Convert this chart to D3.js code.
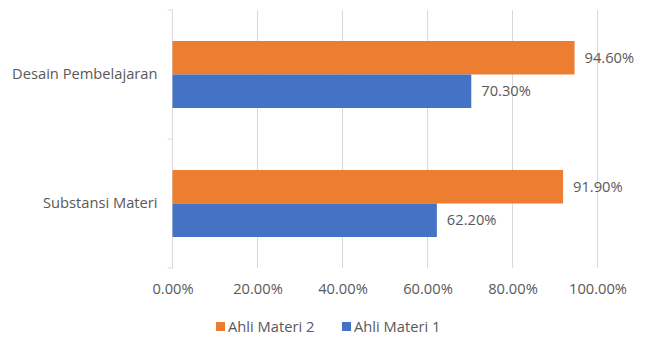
<!DOCTYPE html>
<html><head><meta charset="utf-8">
<script src="https://cdn.jsdelivr.net/npm/d3@7/dist/d3.min.js"></script>
<style>body{margin:0;background:#fff}svg{display:block}text{font-family:"Open Sans",sans-serif;fill:#595959}</style>
</head><body><svg id="c" width="651" height="338"></svg>
<script>
const categories = ["Desain Pembelajaran", "Substansi Materi"];
const seriesNames = ["Ahli Materi 2", "Ahli Materi 1"];
const ahliMateri2 = [94.6, 91.9];
const ahliMateri1 = [70.3, 62.2];
const tickValues = [0, 20, 40, 60, 80, 100];
const colors = ["#ED7D31", "#4472C4"];

const svg = d3.select("#c");
const x = d3.scaleLinear().domain([0, 100]).range([172.5, 597.5]);
const y = d3.scaleBand().domain(categories).range([10, 268]).paddingInner(0).paddingOuter(0);
const inner = d3.scaleBand().domain(seriesNames).range([0, y.bandwidth()]).paddingOuter(0.925).paddingInner(0);
const fs = 14.7;

// gridlines
svg.append("g").selectAll("line").data(tickValues.slice(1)).join("line")
  .attr("x1", d => x(d)).attr("x2", d => x(d)).attr("y1", 10).attr("y2", 268)
  .attr("stroke", "#d9d9d9").attr("stroke-width", 1);

// y axis
const ya = svg.append("g").attr("transform", `translate(${x(0)},0)`)
  .call(d3.axisLeft(y).tickSize(0).tickPadding(15).tickSizeOuter(0));
ya.select(".domain").remove();
ya.selectAll("text").style("font-size", fs + "px").style("fill", "#595959").attr("font-family", null);
svg.append("line").attr("x1", x(0)).attr("x2", x(0)).attr("y1", 10).attr("y2", 268).attr("stroke", "#d9d9d9");
svg.append("g").selectAll("line").data([10, 139, 268]).join("line")
  .attr("x1", x(0) - 5).attr("x2", x(0)).attr("y1", d => d).attr("y2", d => d).attr("stroke", "#d9d9d9");

// x axis labels
const xa = svg.append("g").attr("transform", "translate(0,268)")
  .call(d3.axisBottom(x).tickValues(tickValues).tickSize(0).tickPadding(16).tickFormat(d => d.toFixed(2) + "%"));
xa.select(".domain").remove();
xa.selectAll("text").style("font-size", fs + "px").style("fill", "#595959").attr("font-family", null);

// bars
const rows = categories.map((c, i) => ({c, vals: [ahliMateri2[i], ahliMateri1[i]]}));
const g = svg.append("g").selectAll("g").data(rows).join("g")
  .attr("transform", d => `translate(0,${y(d.c)})`);
g.selectAll("rect").data(d => d.vals.map((v, j) => ({v, s: seriesNames[j], j}))).join("rect")
  .attr("x", x(0)).attr("y", d => inner(d.s)).attr("width", d => x(d.v) - x(0))
  .attr("height", inner.bandwidth()).attr("fill", d => colors[d.j]);
g.selectAll("text").data(d => d.vals.map((v, j) => ({v, s: seriesNames[j]}))).join("text")
  .attr("x", d => x(d.v) + 10).attr("y", d => inner(d.s) + inner.bandwidth() / 2)
  .attr("dy", "0.35em").style("font-size", fs + "px").text(d => d.v.toFixed(2) + "%");

// legend
const leg = svg.append("g");
const legX = [216, 342];
seriesNames.forEach((s, i) => {
  leg.append("rect").attr("x", legX[i]).attr("y", 322).attr("width", 9).attr("height", 9).attr("fill", colors[i]);
  leg.append("text").attr("x", legX[i] + 12).attr("y", 327).attr("dy", "0.35em").style("font-size", fs + "px").text(s);
});
</script></body></html>
